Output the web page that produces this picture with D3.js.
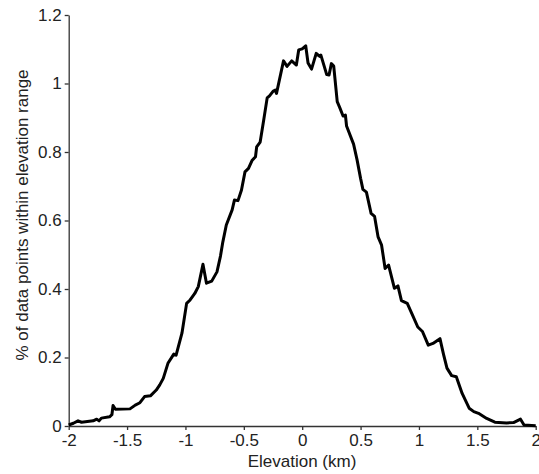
<!DOCTYPE html>
<html lang="en">
<head>
    <meta charset="UTF-8">
    <script type="text/javascript" src="https://d3js.org/d3.v7.min.js"></script>
    <title>Elevation</title>
    <style>
        body { margin: 0; background: #fff; }
    </style>
</head>
<body>
    <svg id="svg"></svg>
    <script>
        const width = 539;
        const height = 474;
        const font = "'Liberation Sans', Arial, sans-serif";

        // elevation (km) and % of points
        const elevation = [-2.00, -1.96, -1.92, -1.89, -1.79, -1.76, -1.74, -1.72, -1.65, -1.63,
            -1.62, -1.60, -1.475, -1.43, -1.39, -1.35, -1.30, -1.25, -1.22, -1.19,
            -1.15, -1.10, -1.08, -1.03, -0.99, -0.96, -0.92, -0.89, -0.85, -0.82,
            -0.775, -0.73, -0.70, -0.68, -0.65, -0.60, -0.58, -0.55, -0.52, -0.49,
            -0.46, -0.43, -0.40, -0.39, -0.36, -0.33, -0.30, -0.28, -0.25, -0.23,
            -0.22, -0.16, -0.13, -0.09, -0.05, -0.03, 0.00, 0.03, 0.05, 0.08,
            0.12, 0.15, 0.16, 0.21, 0.23, 0.25, 0.27, 0.30, 0.32, 0.35,
            0.37, 0.38, 0.44, 0.47, 0.50, 0.52, 0.55, 0.59, 0.62, 0.65,
            0.68, 0.71, 0.74, 0.79, 0.82, 0.85, 0.90, 0.945, 0.99, 1.03,
            1.08, 1.12, 1.18, 1.21, 1.24, 1.28, 1.32, 1.37, 1.43, 1.47,
            1.51, 1.58, 1.65, 1.75, 1.81, 1.87, 1.90, 2.00];
        const percent = [0.003, 0.008, 0.015, 0.011, 0.015, 0.020, 0.015, 0.023, 0.027, 0.033,
            0.060, 0.049, 0.050, 0.061, 0.068, 0.086, 0.088, 0.105, 0.120, 0.139,
            0.183, 0.210, 0.207, 0.271, 0.358, 0.368, 0.387, 0.407, 0.472, 0.417,
            0.423, 0.450, 0.496, 0.537, 0.587, 0.631, 0.660, 0.658, 0.689, 0.742,
            0.752, 0.775, 0.786, 0.815, 0.829, 0.893, 0.958, 0.964, 0.977, 0.981,
            0.971, 1.066, 1.050, 1.066, 1.054, 1.098, 1.101, 1.110, 1.060, 1.042,
            1.088, 1.079, 1.083, 1.026, 1.025, 1.058, 1.051, 0.947, 0.931, 0.905,
            0.908, 0.876, 0.823, 0.777, 0.723, 0.691, 0.683, 0.621, 0.612, 0.552,
            0.528, 0.460, 0.470, 0.402, 0.409, 0.366, 0.358, 0.324, 0.289, 0.276,
            0.236, 0.241, 0.255, 0.210, 0.169, 0.147, 0.144, 0.095, 0.052, 0.042,
            0.037, 0.022, 0.011, 0.009, 0.010, 0.020, 0.003, 0.001];
        const xTicks = [-2, -1.5, -1, -0.5, 0, 0.5, 1, 1.5, 2];
        const yTicks = [0, 0.2, 0.4, 0.6, 0.8, 1, 1.2];

        const data = elevation.map((e, i) => [e, percent[i]]);

        const xscale = d3.scaleLinear().domain([-2, 2]).range([68.7, 535.7]);
        const yscale = d3.scaleLinear().domain([0, 1.2]).range([426, 15]);

        const svg = d3.select("#svg").attr("width", width).attr("height", height)
            .attr("font-family", font);

        const styleAxis = g => {
            g.attr("font-family", font).attr("font-size", 17);
            g.selectAll("text").attr("fill", "#222");
            g.selectAll("line,path").attr("stroke", "#333").attr("stroke-width", 1.3);
        };

        const xaxis = d3.axisBottom(xscale).tickValues(xTicks).tickSize(4).tickPadding(4)
            .tickSizeOuter(0).tickFormat(d => String(d));
        svg.append("g").attr("transform", `translate(0,${yscale(0)})`).call(xaxis).call(styleAxis);

        const yaxis = d3.axisLeft(yscale).tickValues(yTicks).tickSize(4).tickPadding(3)
            .tickSizeOuter(0).tickFormat(d => String(d));
        svg.append("g").attr("transform", `translate(${xscale(-2)},0)`).call(yaxis).call(styleAxis);

        const line = d3.line().x(d => xscale(d[0])).y(d => yscale(d[1]));
        svg.append("path").attr("d", line(data))
            .attr("fill", "none").attr("stroke", "#000")
            .attr("stroke-width", 3).attr("stroke-linejoin", "round");

        svg.append("text").attr("x", 302).attr("y", 467)
            .attr("text-anchor", "middle").attr("font-size", 17).attr("fill", "#222")
            .text("Elevation (km)");

        svg.append("text").attr("transform", "translate(28,215) rotate(-90)")
            .attr("text-anchor", "middle").attr("font-size", 17).attr("fill", "#222")
            .text("% of data points within elevation range");
    </script>
</body>
</html>
